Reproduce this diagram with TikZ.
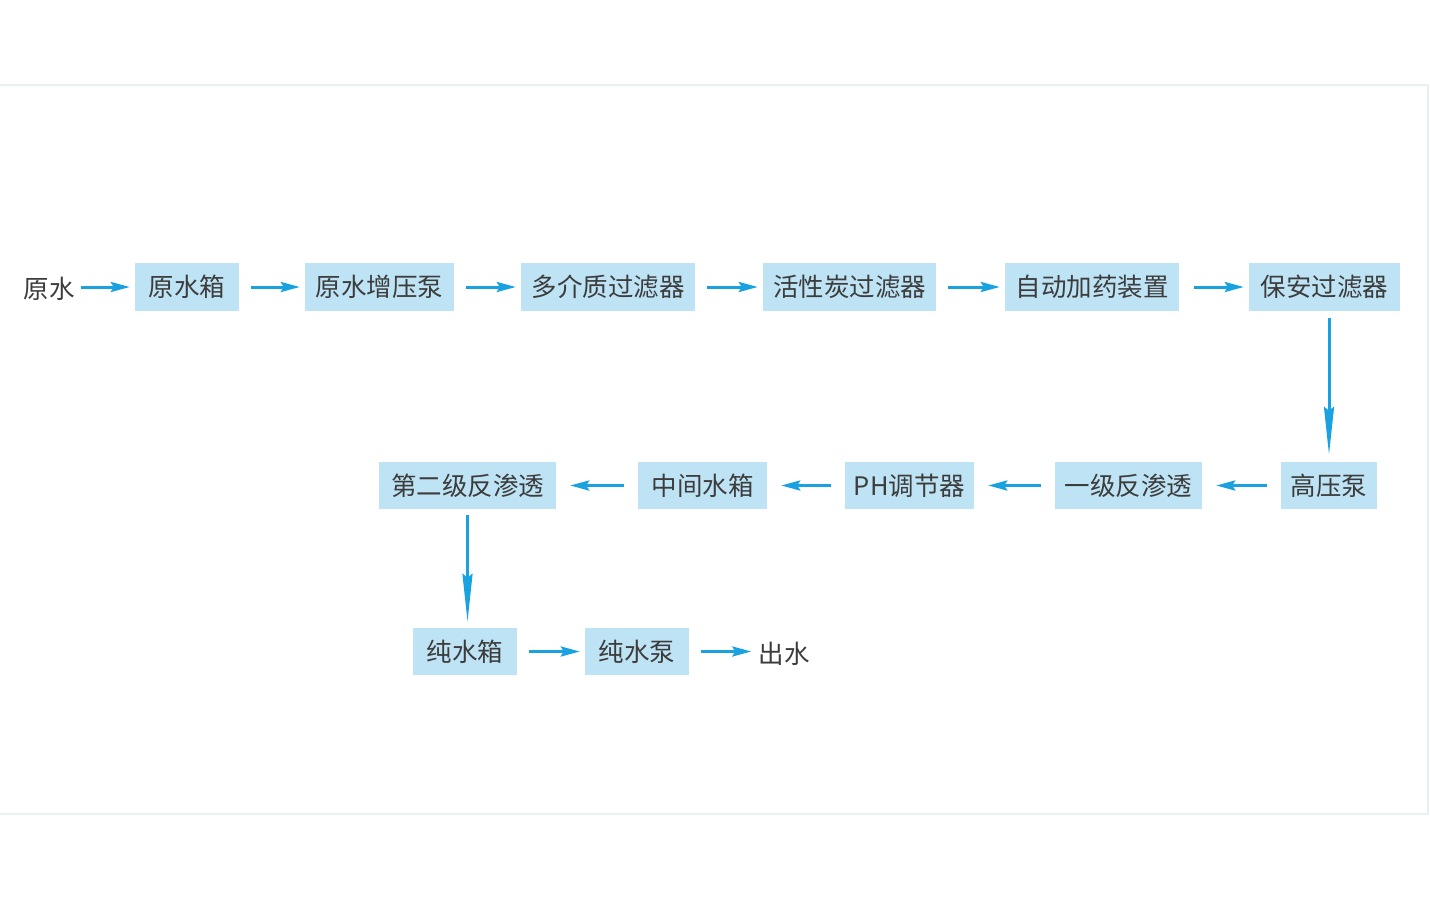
\documentclass[tikz,border=0pt]{standalone}
\usepackage{fontspec}
\setmainfont{Noto Sans CJK SC}
\usetikzlibrary{arrows.meta}
\definecolor{boxfill}{RGB}{190,227,245}
\definecolor{arrowblue}{RGB}{26,162,224}
\definecolor{txt}{RGB}{60,60,60}
\definecolor{frameline}{RGB}{232,240,242}
\tikzset{
  stepbox/.style={fill=boxfill, draw=none, inner sep=0pt, text=txt, font=\fontsize{25.5}{30}\selectfont},
  lbl/.style={inner sep=0pt, text=txt, font=\fontsize{25.5}{30}\selectfont},
  flow/.style={draw=arrowblue, line width=3pt, -{Stealth[length=19pt,width=10pt,inset=3pt]}},
  rflow/.style={flow, shorten <=12pt, shorten >=5pt},
  lflow/.style={flow, shorten <=14pt, shorten >=14pt},
  vflow/.style={draw=arrowblue, line width=3pt, -{Stealth[length=48pt,width=10pt,inset=4pt]}, shorten <=7pt, shorten >=7pt},
}
\begin{document}
\begin{tikzpicture}[x=1pt,y=-1pt]
\useasboundingbox (0,0) rectangle (1430,900);
\draw[frameline, line width=1.5pt] (0,85) -- (1428,85) -- (1428,814) -- (0,814);
% row 1
\node[lbl] (src) at (49,289) {原水};
\node[stepbox, minimum width=104pt, minimum height=48pt] (b1) at (187,287) {原水箱};
\node[stepbox, minimum width=149pt, minimum height=48pt] (b2) at (379.5,287) {原水增压泵};
\node[stepbox, minimum width=174pt, minimum height=48pt] (b3) at (608,287) {多介质过滤器};
\node[stepbox, minimum width=173pt, minimum height=48pt] (b4) at (849.5,287) {活性炭过滤器};
\node[stepbox, minimum width=174pt, minimum height=48pt] (b5) at (1092,287) {自动加药装置};
\node[stepbox, minimum width=151pt, minimum height=48pt] (b6) at (1324.5,287) {保安过滤器};
% row 2
\node[stepbox, minimum width=96pt, minimum height=47pt] (b7) at (1329,485.5) {高压泵};
\node[stepbox, minimum width=147pt, minimum height=47pt] (b8) at (1128.5,485.5) {一级反渗透};
\node[stepbox, minimum width=129pt, minimum height=47pt] (b9) at (909.5,485.5) {PH调节器};
\node[stepbox, minimum width=129pt, minimum height=47pt] (b10) at (702.5,485.5) {中间水箱};
\node[stepbox, minimum width=177pt, minimum height=47pt] (b11) at (467.5,485.5) {第二级反渗透};
% row 3
\node[stepbox, minimum width=104pt, minimum height=47pt] (b12) at (465,651.5) {纯水箱};
\node[stepbox, minimum width=104pt, minimum height=47pt] (b13) at (637,651.5) {纯水泵};
\node[lbl] (out) at (784,654) {出水};
% connectors
\draw[flow, shorten <=6pt, shorten >=5pt] (src.east |- b1.west) -- (b1.west);
\draw[rflow] (b1.east) -- (b2.west);
\draw[rflow] (b2.east) -- (b3.west);
\draw[rflow] (b3.east) -- (b4.west);
\draw[rflow] (b4.east) -- (b5.west);
\draw[rflow, shorten <=15pt] (b5.east) -- (b6.west);
\draw[vflow] (b6.south -| b7.north) -- (b7.north);
\draw[lflow] (b7.west) -- (b8.east);
\draw[lflow] (b8.west) -- (b9.east);
\draw[lflow] (b9.west) -- (b10.east);
\draw[lflow] (b10.west) -- (b11.east);
\draw[vflow, shorten <=6pt, shorten >=6pt] (b11.south) -- (b11.south |- b12.north);
\draw[rflow] (b12.east) -- (b13.west);
\draw[rflow, shorten >=7pt] (b13.east) -- (out.west |- b13.east);
\end{tikzpicture}
\end{document}
